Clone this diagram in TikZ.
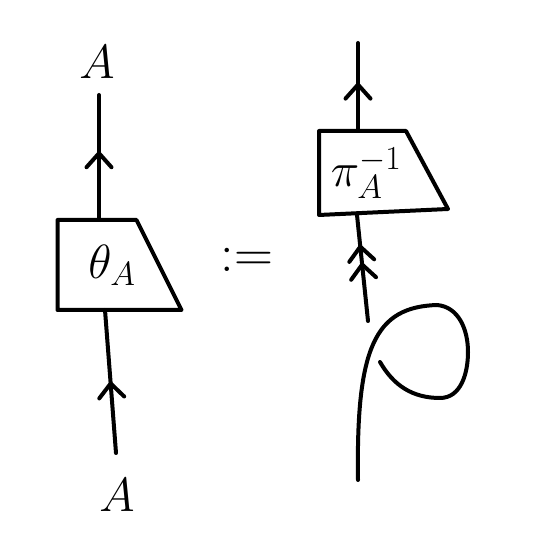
\RequirePackage{fix-cm}
\documentclass[tikz,border=0pt]{standalone}
\usetikzlibrary{arrows.meta}
\usetikzlibrary{decorations.markings}

\tikzset{
	>={Straight Barb[length=14pt,width=25pt,round]},
	midarrow/.style={postaction={decorate,decoration={markings,mark=at position #1 with {\arrow{>}}}}},
	middouble/.style={postaction={decorate,decoration={markings,mark=at position #1 with {\arrow{>>}}}}},
	bodybox/.style={draw=none,inner sep=0pt}
}

\begin{document}
\begin{tikzpicture}
		[x=1pt,y=1pt,line width=4pt,line cap=round,line join=round,every node/.style={font=\fontsize{48}{56}\selectfont}]
		\useasboundingbox (0,0) rectangle (549,537);
		% left hand side
		\node (Atop) at (97,475) {$A$};
		\node (Abot) at (117,42) {$A$};
		\coordinate (lt) at (99,442);
		\coordinate (lb0) at (116,84);
		\node [bodybox,minimum width=105,minimum height=86](lb) at (112,272) {$\theta_A$};
		\draw (lb.north west) -- ([xshift=-30pt]lb.north east) -- ([xshift=15pt]lb.south east) -- (lb.south west) -- cycle;
		\draw [midarrow=0.55] (lb.north -| lt) -- (lt);
		\draw [midarrow=0.5] (lb0) -- (lb.south -| 105,0);
		% definition sign
		\node [font=\fontsize{54}{60}\selectfont](eq) at (247,277) {$:=$};
		% right hand side
		\coordinate (rt) at (358,494);
		\node [bodybox,minimum width=90,minimum height=80](rb) at (366,364) {$\pi_A^{-1}$};
		\draw (rb.north west) -- ([xshift=-7pt]rb.north east) -- ([xshift=35pt,yshift=6pt]rb.south east) -- (rb.south west) -- cycle;
		\draw [midarrow=0.55] (rb.north -| rt) -- (rt);
		\coordinate (k0) at (358,57);
		\coordinate (ku) at (368,216);
		\coordinate (kend) at (380,175);
		\draw [middouble=0.72] (ku) -- (rb.south -| 357,0);
		\draw (k0) .. controls (356,190) and (375,230) .. (437,232)
			to[out=-5,in=90] (468,185) to[out=-90,in=0] (440,139) to[out=180,in=-60] (kend);
	\end{tikzpicture}
\end{document}
